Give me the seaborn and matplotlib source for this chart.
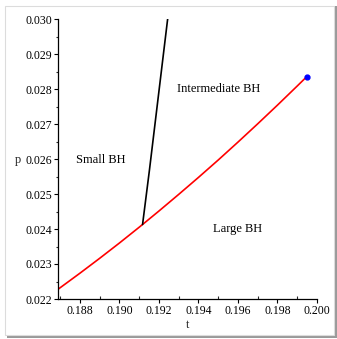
import matplotlib
matplotlib.use("Agg")
import matplotlib.pyplot as plt
import seaborn as sns
import pandas as pd
from matplotlib.patches import Rectangle
from matplotlib.ticker import MultipleLocator

# coexistence (small/large) line, red
coex_t = [0.18689, 0.18800, 0.18900, 0.19000, 0.19100, 0.19117, 0.19200, 0.19300,
          0.19400, 0.19500, 0.19600, 0.19700, 0.19800, 0.19900, 0.19948]
coex_p = [0.022277, 0.022737, 0.023163, 0.023600, 0.024051, 0.024129, 0.024514, 0.024989,
          0.025474, 0.025971, 0.026483, 0.027006, 0.027540, 0.028086, 0.028351]
# small/intermediate line, black
si_t = [0.19117, 0.19152, 0.19244]
si_p = [0.024129, 0.02569, 0.03000]
# critical point
crit_t = [0.19948]
crit_p = [0.028351]

labels = ["Small BH", "Intermediate BH", "Large BH"]
label_t = [0.18904, 0.19500, 0.19600]
label_p = [0.02597, 0.02800, 0.02400]

sns.set_theme(style="white")
plt.rcParams['font.family'] = ['Liberation Serif', 'DejaVu Serif']
fs = 9
fs_tick = 8.5

W, H = 337, 339
fig = plt.figure(figsize=(W / 100, H / 100), dpi=100)
fig.patch.set_facecolor("white")

# frame with shadow
fig.add_artist(Rectangle((7 / W, 1 - 338 / H), 330 / W, 332 / H, transform=fig.transFigure,
                         facecolor="#9a9a9a", edgecolor="none", zorder=-3))
fig.add_artist(Rectangle((5 / W, 1 - 335 / H), 329 / W, 329 / H, transform=fig.transFigure,
                         facecolor="white", edgecolor="#dcdcdc", linewidth=0.8, zorder=-2))

ax = fig.add_axes([58 / W, 40 / H, 259 / W, 280 / H])
ax.set_facecolor("none")
ax.set_zorder(1)

df_c = pd.DataFrame({"t": coex_t, "p": coex_p})
df_s = pd.DataFrame({"t": si_t, "p": si_p})
sns.lineplot(data=df_c, x="t", y="p", sort=False, color="red", linewidth=1.2, ax=ax)
sns.lineplot(data=df_s, x="t", y="p", sort=False, color="black", linewidth=1.2, ax=ax)
ax.plot(crit_t, crit_p, "o", color="blue", markersize=3.5, zorder=5)

for s, tx, py in zip(labels, label_t, label_p):
    ax.text(tx, py, s, fontsize=fs, ha="center", va="center", color="black")

ax.set_xlim(0.18689, 0.2000)
ax.set_ylim(0.022, 0.030)
ax.xaxis.set_major_locator(MultipleLocator(0.002))
ax.xaxis.set_minor_locator(MultipleLocator(0.001))
ax.yaxis.set_major_locator(MultipleLocator(0.001))
ax.yaxis.set_minor_locator(MultipleLocator(0.0005))
ax.set_xticklabels([f"{v:.3f}" for v in ax.get_xticks()])
ax.set_yticklabels([f"{v:.3f}" for v in ax.get_yticks()])

for side in ["top", "right"]:
    ax.spines[side].set_visible(False)
for side in ["left", "bottom"]:
    ax.spines[side].set_color("black")
    ax.spines[side].set_linewidth(0.9)

ax.tick_params(axis="both", which="major", direction="out", length=3, width=0.8,
               labelsize=fs_tick, colors="black", pad=1.5, bottom=True, left=True)
ax.tick_params(axis="x", which="minor", direction="in", length=2, width=0.8, bottom=True)
ax.tick_params(axis="y", which="minor", direction="out", length=1.5, width=0.8, left=True)

ax.set_xlabel("t", fontsize=fs, labelpad=1)
ax.set_ylabel("p", fontsize=fs, rotation=0, va="center", ha="center")
ax.yaxis.set_label_coords(-0.153, 0.497)
ax.grid(False)

fig.savefig("out.png", dpi=100)
